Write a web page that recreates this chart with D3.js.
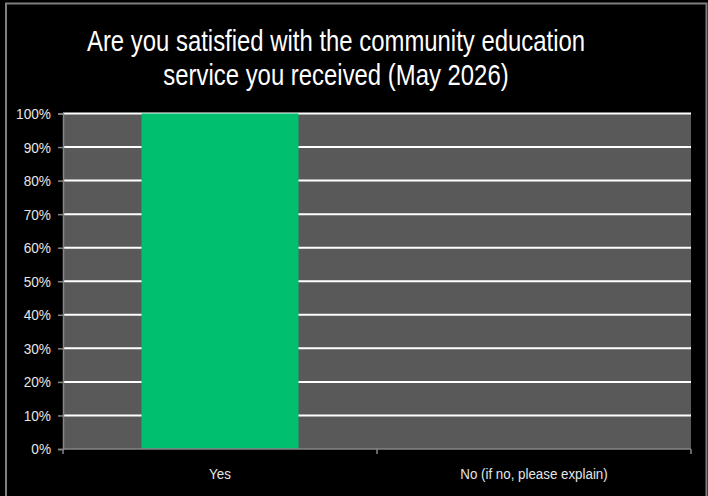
<!DOCTYPE html>
<html>
<head>
<meta charset="utf-8">
<script src="https://cdn.jsdelivr.net/npm/d3@7"></script>
<style>
  body { margin: 0; background: #000; }
  svg { display: block; }
</style>
</head>
<body>
<svg></svg>
<script>
"use strict"
// dati
const categorie = ["Yes", "No (if no, please explain)"];
const valori = [100, 0];
const tickY = [0, 10, 20, 30, 40, 50, 60, 70, 80, 90, 100];
const titolo = ["Are you satisfied with the community education", "service you received (May 2026)"];

const grafico = { w: 708, h: 496 };
const area = { x0: 63, x1: 691, y0: 113.5, y1: 449 };
const font = "'Liberation Sans', Arial, sans-serif";

const svg = d3.select("svg")
    .attr("width", grafico.w)
    .attr("height", grafico.h);

svg.append("rect")
    .attr("width", grafico.w).attr("height", grafico.h)
    .attr("fill", "#000");

// cornice
svg.append("path")
    .attr("d", `M6,${grafico.h} V3.5 H706.5 V${grafico.h}`)
    .attr("fill", "none")
    .attr("stroke", "#7f7f7f")
    .attr("stroke-width", 2);

svg.append("g")
    .attr("class", "titolo")
    .selectAll("text")
    .data(titolo)
    .enter()
    .append("text")
    .attr("class", "narrow")
    .attr("data-stretta", 0.81)
    .attr("text-anchor", "middle")
    .attr("fill", "#fff")
    .attr("font-family", font)
    .attr("font-size", "29.5px")
    .attr("x", 336)
    .attr("y", function (d, i) { return 51 + i * 34 })
    .text(function (d) { return d });

const scalaX = d3.scaleBand()
    .domain(categorie)
    .range([area.x0, area.x1])
    .paddingInner(0.5)
    .paddingOuter(0.25);

const scalaY = d3.scaleLinear()
    .domain([0, 100])
    .range([area.y1, area.y0]);

svg.append("rect")
    .attr("x", area.x0)
    .attr("y", area.y0)
    .attr("width", area.x1 - area.x0)
    .attr("height", area.y1 - area.y0)
    .attr("fill", "#595959");

// griglia
svg.selectAll(".griglia")
    .data(tickY.filter(function (d) { return d > 0 }))
    .enter()
    .append("line")
    .attr("class", "griglia")
    .attr("x1", area.x0)
    .attr("x2", area.x1)
    .attr("y1", function (d) { return scalaY(d) })
    .attr("y2", function (d) { return scalaY(d) })
    .attr("stroke", "#fff")
    .attr("stroke-width", 2);

svg.selectAll(".barra")
    .data(valori)
    .enter()
    .append("rect")
    .attr("class", "barra")
    .attr("x", function (d, i) { return scalaX(categorie[i]) })
    .attr("y", function (d) { return scalaY(d) })
    .attr("width", scalaX.bandwidth())
    .attr("height", function (d) { return scalaY(0) - scalaY(d) })
    .attr("fill", "#00bf6f");

const asseY = d3.axisLeft(scalaY)
    .tickValues(tickY)
    .tickSize(5)
    .tickPadding(7)
    .tickFormat(function (d) { return d + "%" });

const gY = svg.append("g")
    .attr("transform", `translate(${area.x0},0)`)
    .call(asseY);

// asse x: tacche ai confini delle categorie
const bordi = [area.x0, (area.x0 + area.x1) / 2, area.x1];
const gX = svg.append("g")
    .attr("transform", `translate(0,${area.y1})`);
gX.append("line")
    .attr("x1", area.x0).attr("x2", area.x1)
    .attr("stroke", "#868686").attr("stroke-width", 1.5);
gX.selectAll(".tacca")
    .data(bordi)
    .enter()
    .append("line")
    .attr("class", "tacca")
    .attr("x1", function (d) { return d })
    .attr("x2", function (d) { return d })
    .attr("y1", 0).attr("y2", 5)
    .attr("stroke", "#868686").attr("stroke-width", 1.5);
gX.selectAll(".etichetta")
    .data(categorie)
    .enter()
    .append("text")
    .attr("class", "etichetta narrow")
    .attr("data-stretta", 0.86)
    .attr("x", function (d) { return scalaX(d) + scalaX.bandwidth() / 2 })
    .attr("y", 30)
    .attr("text-anchor", "middle")
    .attr("fill", "#e6e6e6")
    .attr("font-family", font)
    .attr("font-size", "15.5px")
    .text(function (d) { return d });

gY.select(".domain").attr("stroke", "#868686").attr("stroke-width", 1.5);
gY.selectAll(".tick line").attr("stroke", "#868686").attr("stroke-width", 1.5);
gY.selectAll(".tick text")
    .attr("class", "narrow")
    .attr("data-stretta", 0.88)
    .attr("fill", "#e6e6e6")
    .attr("font-family", font)
    .attr("font-size", "15.5px");

// comprime i testi come un carattere narrow
svg.selectAll(".narrow").each(function () {
    const l = this.getComputedTextLength();
    const k = +this.getAttribute("data-stretta");
    d3.select(this)
        .attr("textLength", l * k)
        .attr("lengthAdjust", "spacingAndGlyphs");
});
</script>
</body>
</html>
